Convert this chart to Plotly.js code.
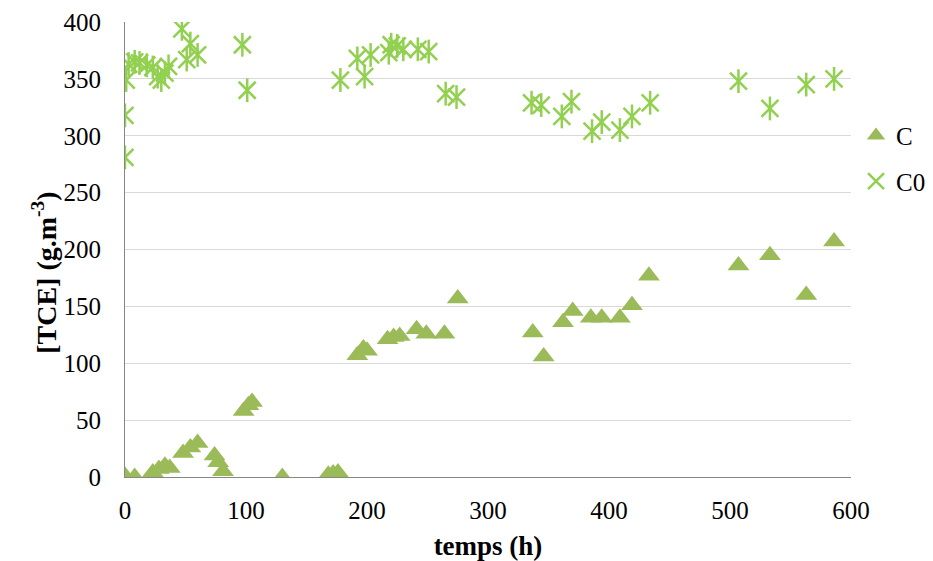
<!DOCTYPE html>
<html>
<head>
<meta charset="utf-8">
<script src="https://cdn.plot.ly/plotly-3.0.1.min.js"></script>
<style>html,body{margin:0;padding:0;background:#fff;}#chart{width:933px;height:561px;}</style>
</head>
<body>
<div id="chart"></div>
<script>
// Data
var tC  = [0, 8, 23, 28, 33, 37, 48, 54, 60, 74, 77, 81, 98, 102, 105, 130, 168, 172, 176, 192, 197, 200, 217, 222, 227, 241, 249, 264, 275, 337, 346, 362, 370, 385, 394, 409, 419, 433, 507, 533, 563, 586];
var valC = [1, 0, 4, 7, 10, 8, 21, 26, 30, 19, 13, 5, 58, 63, 66, 0, 2, 3, 4, 107, 113, 111, 121, 123, 124, 130, 126, 126, 157, 127, 106, 136, 146, 140, 140, 140, 151, 177, 186, 195, 160, 207];
var tC0 = [0, 0, 1, 3, 8, 12, 18, 23, 27, 30, 33, 36, 47, 51, 54, 60, 97, 101, 178, 192, 198, 203, 218, 220, 225, 230, 242, 251, 265, 274, 336, 344, 361, 369, 386, 394, 409, 419, 434, 507, 533, 563, 586];
var valC0 = [281, 318, 349, 363, 365, 364, 362, 360, 352, 349, 355, 361, 394, 367, 381, 371, 380, 340, 349, 368, 352, 371, 373, 380, 379, 376, 376, 374, 337, 334, 329, 327, 317, 330, 304, 312, 305, 317, 329, 348, 324, 345, 350];
var seriesNames = ['C', 'C0'];
var xTitle = 'temps (h)';
var yTitle = '[TCE] (g.m<sup>-3</sup>)';
var xTicks = [0, 100, 200, 300, 400, 500, 600];
var yTicks = [0, 50, 100, 150, 200, 250, 300, 350, 400];

var FONT = '"Liberation Serif", "Times New Roman", serif';
var colC = '#9BBB59';
var colC0 = '#92D050';

var traces = [
  {x: tC, y: valC, name: seriesNames[0], type: 'scatter', mode: 'markers', legendgroup: 'a',
   marker: {symbol: 'triangle-up', size: 19, color: colC, line: {width: 0}}},
  {x: tC0, y: valC0, name: seriesNames[1], type: 'scatter', mode: 'markers', legendgroup: 'b',
   marker: {symbol: 'x-thin-open', size: 17, color: colC0, line: {width: 2.5, color: colC0}}},
  {x: tC0, y: valC0, name: seriesNames[1], type: 'scatter', mode: 'markers', legendgroup: 'b', showlegend: false,
   marker: {symbol: 'line-ns-open', size: 17, color: colC0, line: {width: 2.5, color: colC0}}}
];

var layout = {
  width: 933, height: 561,
  paper_bgcolor: '#fff', plot_bgcolor: '#fff',
  margin: {l: 125, r: 82, t: 22, b: 84},
  font: {family: FONT, size: 25, color: '#000'},
  showlegend: true,
  legend: {xref: 'container', yref: 'container', x: 0.9175, xanchor: 'left', y: 0.799, yanchor: 'top',
           traceorder: 'grouped', tracegroupgap: 10,
           font: {family: FONT, size: 25, color: '#000'}, bgcolor: 'rgba(0,0,0,0)'},
  xaxis: {range: [0, 600], tickvals: xTicks, showgrid: false, zeroline: false,
          showline: true, linecolor: '#868686', linewidth: 1, ticks: '', ticklabelstandoff: 11,
          tickfont: {family: FONT, size: 25, color: '#000'},
          title: {text: '<b>' + xTitle + '</b>', font: {family: FONT, size: 27, color: '#000'}, standoff: 13}},
  yaxis: {range: [0, 400], tickvals: yTicks, showgrid: true, gridcolor: '#D9D9D9', gridwidth: 1,
          zeroline: false, showline: true, linecolor: '#868686', linewidth: 1, ticks: '', ticklabelstandoff: 18,
          tickfont: {family: FONT, size: 25, color: '#000'}},
  annotations: [{
    text: '<b>' + yTitle + '</b>', xref: 'paper', yref: 'paper', x: -0.110, y: 0.449,
    xanchor: 'center', yanchor: 'middle', textangle: -90, showarrow: false,
    font: {family: FONT, size: 28, color: '#000'}
  }]
};

Plotly.newPlot('chart', traces, layout, {staticPlot: true, displayModeBar: false});
</script>
</body>
</html>
